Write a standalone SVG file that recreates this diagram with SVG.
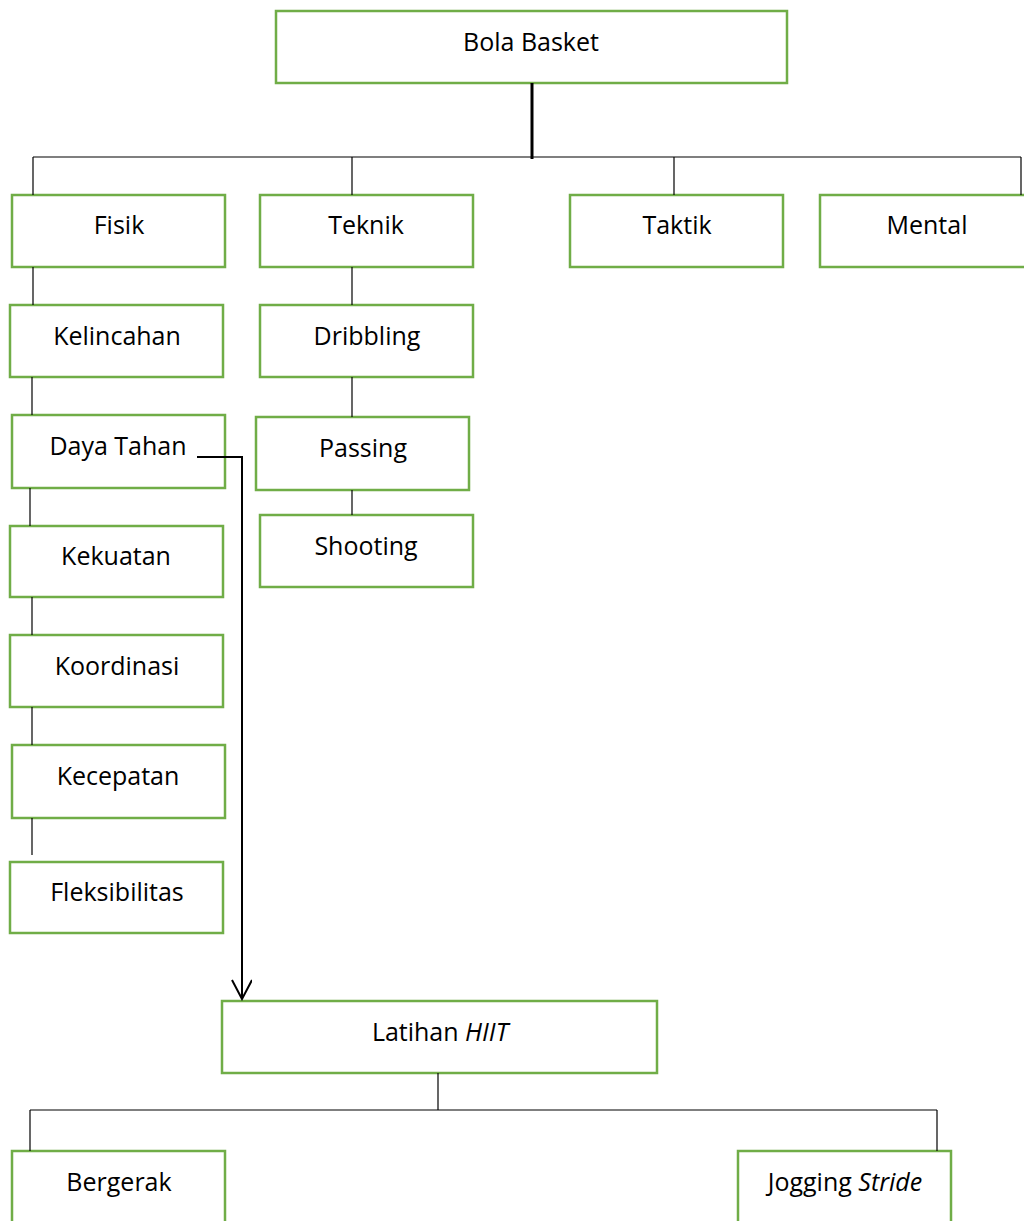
<svg xmlns="http://www.w3.org/2000/svg" width="1024" height="1221" viewBox="0 0 1024 1221">
<style>
.box{fill:#fff;stroke:#70AD47;stroke-width:2.5}
.t{font-family:"Open Sans","Noto Sans","Liberation Sans",sans-serif;font-size:25px;fill:#000;text-anchor:middle}
.ln{stroke:#000;stroke-width:1.2;fill:none}
</style>
<defs>
<marker id="arr" markerWidth="22" markerHeight="22" refX="20" refY="10" orient="auto" markerUnits="userSpaceOnUse" viewBox="0 0 22 22">
<path d="M1,0 L20,10 L1,20" fill="none" stroke="#000" stroke-width="2"/>
</marker>
</defs>
<g id="bola-basket"><rect class="box" x="276" y="11" width="511" height="72"/><text class="t" x="531" y="51">Bola Basket</text></g>
<g id="fisik"><rect class="box" x="12" y="195" width="213" height="72"/><text class="t" x="119" y="234">Fisik</text></g>
<g id="teknik"><rect class="box" x="260" y="195" width="213" height="72"/><text class="t" x="366" y="234">Teknik</text></g>
<g id="taktik"><rect class="box" x="570" y="195" width="213" height="72"/><text class="t" x="677" y="234">Taktik</text></g>
<g id="mental"><rect class="box" x="820" y="195" width="213" height="72"/><text class="t" x="927" y="234">Mental</text></g>
<g id="kelincahan"><rect class="box" x="10" y="305" width="213" height="72"/><text class="t" x="117" y="345">Kelincahan</text></g>
<g id="daya-tahan"><rect class="box" x="12" y="415" width="213" height="73"/><text class="t" x="118" y="455">Daya Tahan</text></g>
<g id="kekuatan"><rect class="box" x="10" y="526" width="213" height="71"/><text class="t" x="116" y="565">Kekuatan</text></g>
<g id="koordinasi"><rect class="box" x="10" y="635" width="213" height="72"/><text class="t" x="117" y="675">Koordinasi</text></g>
<g id="kecepatan"><rect class="box" x="12" y="745" width="213" height="73"/><text class="t" x="118" y="785">Kecepatan</text></g>
<g id="fleksibilitas"><rect class="box" x="10" y="862" width="213" height="71"/><text class="t" x="117" y="901">Fleksibilitas</text></g>
<g id="dribbling"><rect class="box" x="260" y="305" width="213" height="72"/><text class="t" x="367" y="345">Dribbling</text></g>
<g id="passing"><rect class="box" x="256" y="417" width="213" height="73"/><text class="t" x="363" y="457">Passing</text></g>
<g id="shooting"><rect class="box" x="260" y="515" width="213" height="72"/><text class="t" x="366" y="555">Shooting</text></g>
<g id="latihan-hiit"><rect class="box" x="222" y="1001" width="435" height="72"/><text class="t" x="440" y="1041">Latihan <tspan font-style="italic">HIIT</tspan></text></g>
<g id="bergerak"><rect class="box" x="12" y="1151" width="213" height="80"/><text class="t" x="119" y="1191">Bergerak</text></g>
<g id="jogging-stride"><rect class="box" x="738" y="1151" width="213" height="80"/><text class="t" x="845" y="1191">Jogging <tspan font-style="italic">Stride</tspan></text></g>
<g id="connectors">
<line class="ln" x1="532" y1="83" x2="532" y2="159" style="stroke-width:3"/>
<line class="ln" x1="33" y1="157" x2="1021" y2="157"/>
<line class="ln" x1="33" y1="157" x2="33" y2="195"/>
<line class="ln" x1="352" y1="157" x2="352" y2="195"/>
<line class="ln" x1="674" y1="157" x2="674" y2="195"/>
<line class="ln" x1="1021" y1="157" x2="1021" y2="195"/>
<line class="ln" x1="33" y1="267" x2="33" y2="305"/>
<line class="ln" x1="32" y1="377" x2="32" y2="415"/>
<line class="ln" x1="30" y1="488" x2="30" y2="526"/>
<line class="ln" x1="32" y1="597" x2="32" y2="635"/>
<line class="ln" x1="32" y1="707" x2="32" y2="745"/>
<line class="ln" x1="32" y1="818" x2="32" y2="855"/>
<line class="ln" x1="352" y1="267" x2="352" y2="305"/>
<line class="ln" x1="352" y1="377" x2="352" y2="417"/>
<line class="ln" x1="352" y1="490" x2="352" y2="515"/>
<path class="ln" d="M197,457 L242,457 L242,999" style="stroke-width:2" marker-end="url(#arr)"/>
<line class="ln" x1="438" y1="1073" x2="438" y2="1110"/>
<line class="ln" x1="30" y1="1110" x2="937" y2="1110"/>
<line class="ln" x1="30" y1="1110" x2="30" y2="1151"/>
<line class="ln" x1="937" y1="1110" x2="937" y2="1151"/>
</g>
</svg>
